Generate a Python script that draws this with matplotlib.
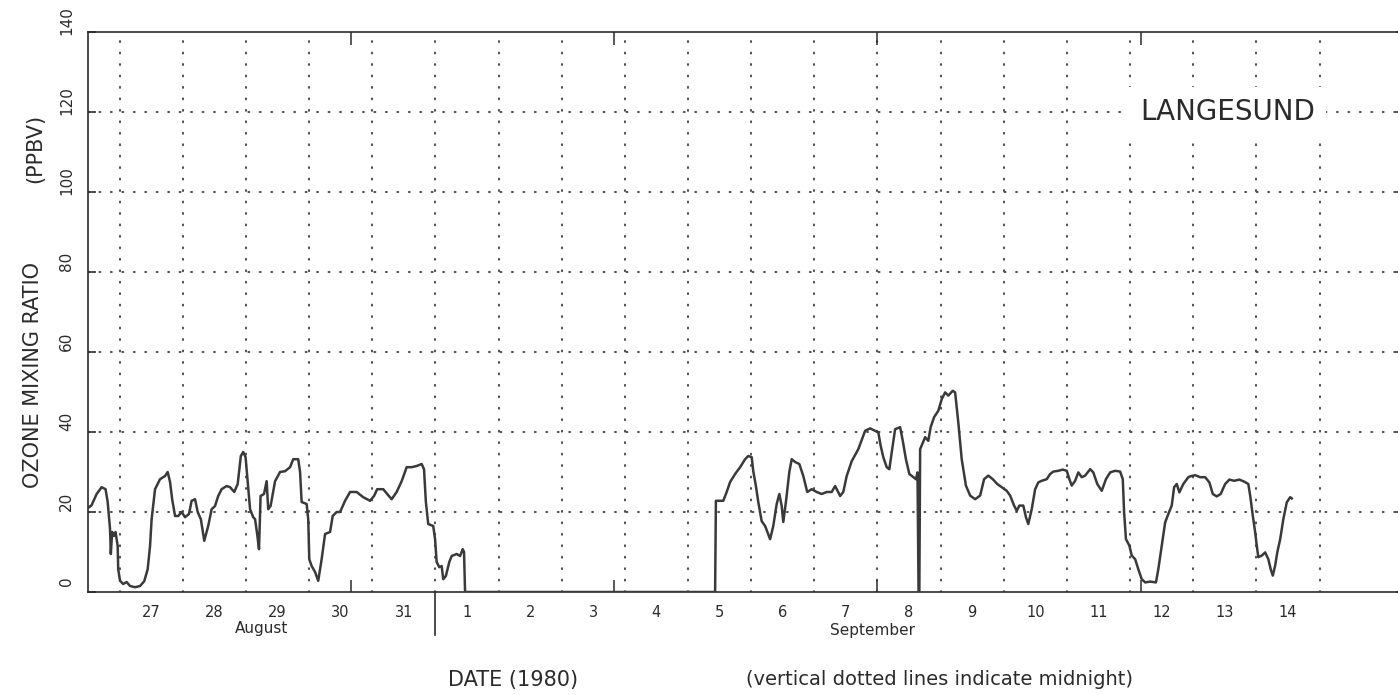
import matplotlib
matplotlib.use('Agg')
import matplotlib.pyplot as plt
import matplotlib.transforms as mtransforms

# hours after 26 Aug 1980 12:00 and ozone (ppbv), Langesund
hours = [0.0, 1.4, 3.3, 5.2, 6.7, 7.5, 8.4, 8.7, 9.2, 9.9, 10.5, 11.3, 11.5, 12.2, 13.4, 14.7,
         16.0, 17.9, 19.8, 21.4, 22.7, 23.6, 24.2, 25.5, 27.4, 29.3, 30.3, 31.2, 32.0, 33.1,
         34.3, 35.6, 36.9, 38.4, 39.4, 40.7, 41.7, 42.9, 44.2, 45.7, 47.0, 48.3, 49.5, 50.8,
         52.7, 54.0, 55.6, 56.9, 58.1, 59.0, 59.9, 60.7, 61.6, 62.8, 63.5, 64.3, 65.0, 65.6,
         66.9, 67.9, 68.5, 69.4, 71.1, 73.0, 74.9, 76.8, 78.0, 79.9, 80.6, 81.2, 83.1, 83.7,
         84.1, 85.0, 86.3, 87.5, 88.8, 90.1, 92.0, 93.0, 94.5, 95.8, 97.7, 99.6, 102.1, 104.6,
         107.2, 108.7, 109.9, 112.2, 113.7, 115.4, 117.3, 119.2, 121.1, 123.0, 124.9, 126.8,
         127.7, 128.4, 129.3, 131.2, 131.9, 132.5, 133.5, 134.4, 135.0, 136.0, 137.3, 138.2,
         140.1, 141.4, 142.4, 142.9, 143.3,
         238.3, 238.6, 241.4, 242.7, 244.0, 245.9, 247.8, 249.7, 250.9, 252.2, 252.8, 253.8,
         254.7, 256.0, 257.3, 259.2, 260.4, 261.7, 262.7, 263.6, 264.2, 265.2, 266.5, 267.4,
         268.7, 270.3, 271.8, 273.3, 275.0, 276.9, 278.8, 280.7, 282.6, 283.9, 285.8, 287.0,
         288.3, 290.2, 292.7, 294.4, 295.3, 297.2, 299.1, 300.3, 301.2, 302.2, 303.5, 304.5,
         305.4, 306.7, 308.6, 309.6, 310.8, 312.1, 313.6, 314.6, 315.2, 315.6, 315.9, 316.2,
         318.1, 319.3, 320.2, 321.5, 323.1, 324.4, 325.7, 326.9, 328.6, 329.5, 330.7, 332.0,
         333.6, 335.2, 337.1, 339.0, 340.5, 342.1, 343.8, 345.5, 347.2, 349.1, 350.4, 351.9,
         352.9, 353.9, 355.4, 356.4, 357.3, 358.6, 359.9, 361.1, 362.4, 364.3, 365.6, 366.8,
         368.7, 370.4, 371.9, 372.9, 373.8, 375.1, 376.3, 377.6, 378.9, 380.8, 382.0, 383.5,
         385.2, 386.8, 388.4, 390.3, 392.2, 393.2, 393.7, 394.4, 395.7, 396.6, 397.9, 399.1,
         400.4, 401.7, 403.6, 405.8, 406.7, 408.0, 409.3, 410.5, 411.8, 412.7, 413.7, 414.7,
         416.2, 418.1, 418.8, 420.7, 422.6, 424.5, 426.1, 427.4, 428.9, 430.4, 432.1, 433.7,
         435.5, 437.5, 439.3, 440.9, 441.6, 442.6, 443.5, 444.1, 444.7, 446.0, 447.3, 448.5,
         449.4, 450.2, 451.1, 451.9, 453.0, 454.2, 455.5, 456.8, 457.4]
ozone = [21.0, 21.7, 24.5, 26.2, 25.7, 22.5, 15.7, 9.5, 15.0, 14.0, 15.0, 11.5, 5.7, 2.8, 2.0, 2.5,
         1.5, 1.2, 1.5, 2.7, 5.7, 11.5, 18.2, 25.7, 28.2, 29.0, 30.0, 27.5, 23.2, 19.0,
         19.0, 20.0, 18.7, 19.5, 22.8, 23.2, 20.0, 18.2, 12.8, 16.5, 20.7, 21.5, 24.0, 25.7,
         26.5, 26.2, 25.0, 27.0, 34.0, 35.0, 33.7, 27.7, 20.7, 18.7, 18.2, 14.5, 10.7, 24.0,
         24.5, 27.7, 20.7, 21.5, 27.7, 30.0, 30.2, 31.2, 33.2, 33.2, 30.0, 22.5, 22.0, 18.2,
         8.2, 6.5, 5.0, 2.8, 8.2, 14.5, 15.0, 19.0, 20.0, 20.0, 22.8, 25.0, 25.0, 23.7,
         22.8, 24.0, 25.7, 25.7, 24.5, 23.2, 25.0, 27.7, 31.2, 31.2, 31.5, 32.0,
         30.7, 22.5, 17.0, 16.5, 13.2, 7.5, 6.2, 6.5, 3.2, 4.0, 7.5, 9.0,
         9.5, 9.0, 10.7, 10.0, 0.0,
         0.0, 22.8, 22.8, 25.0, 27.5, 29.5, 31.2, 33.2, 34.0, 33.7, 30.2, 26.5,
         22.5, 17.7, 16.5, 13.2, 16.5, 22.0, 24.5, 21.5, 17.5, 22.5, 30.0, 33.2,
         32.5, 32.0, 29.0, 25.0, 25.7, 25.0, 24.5, 25.0, 25.0, 26.5, 24.0, 25.0,
         29.0, 32.7, 35.7, 38.7, 40.3, 40.9, 40.3, 39.9, 36.6, 33.7, 31.2, 30.7,
         34.9, 40.7, 41.2, 37.8, 33.2, 29.5, 28.7, 28.2, 29.9, 0.0, 0.0, 35.7,
         38.7, 37.8, 41.2, 43.7, 45.3, 48.2, 49.9, 49.1, 50.3, 49.9, 42.4, 33.2,
         26.6, 24.1, 23.2, 24.1, 28.2, 29.1, 28.2, 27.0, 26.2, 25.3, 24.1, 21.6,
         20.3, 21.6, 21.6, 18.7, 17.0, 20.7, 25.7, 27.4, 27.8, 28.2, 29.5, 30.1,
         30.3, 30.6, 30.3, 28.2, 26.6, 27.8, 29.9, 28.7, 29.1, 30.7, 29.9, 27.0,
         25.3, 28.2, 29.9, 30.3, 30.1, 28.2, 19.9, 13.2, 11.6, 9.1, 8.2, 5.7,
         3.2, 2.4, 2.6, 2.4, 5.7, 11.6, 17.4, 19.5, 21.6, 26.2, 27.0, 24.9,
         27.0, 28.7, 28.9, 29.2, 28.7, 28.7, 27.4, 24.5, 23.9, 24.5, 27.0, 28.1,
         27.8, 28.1, 27.6, 27.0, 24.1, 19.1, 14.9, 11.6, 8.7, 9.1, 9.9, 8.2,
         5.7, 4.1, 6.6, 9.9, 13.2, 18.2, 22.4, 23.7, 23.4]

aug_days = ['27', '28', '29', '30', '31']
sep_days = [str(d) for d in range(1, 15)]
y_ticks = [0, 20, 40, 60, 80, 100, 120, 140]

ink = '#2b2b2b'
plt.rcParams['font.family'] = ['DejaVu Sans']

fig = plt.figure(figsize=(13.98, 6.95), dpi=100)
ax = fig.add_axes([0.0629, 0.1482, 0.9413, 0.8058])
ax.set_xlim(0, 500)
ax.set_ylim(0, 140)

# dotted grid: midnights and every 20 ppbv
midnights = [12 + 24 * k for k in range(20)]
dots = dict(color='#505050', lw=1.5, ls=(0, (0.4, 5.1)), dash_capstyle='round', zorder=1)
for m in midnights:
    ax.axvline(m, **dots)
for v in y_ticks[1:-1]:
    ax.axhline(v, **dots)

ax.plot(hours, ozone, color='#3a3a3a', lw=1.8, zorder=3)

for side in ax.spines.values():
    side.set_color(ink)
    side.set_linewidth(1.2)

# day numbers sit at noon of each day
labels = aug_days + sep_days
noons = [24 + 24 * k for k in range(len(labels))]
ax.set_xticks(noons, labels=labels)
ax.set_xticks([100, 200, 300, 400], minor=True)
ax.tick_params(axis='x', which='major', length=0, pad=9, labelsize=10.5, labelcolor=ink)
ax.tick_params(axis='x', which='minor', direction='in', length=9, width=1.1,
               top=True, bottom=True, color=ink)

ax.set_yticks(y_ticks, labels=[str(v) for v in y_ticks])
ax.tick_params(axis='y', direction='in', length=6, width=1.2, left=True, right=True,
               pad=10, labelsize=11, labelcolor=ink, color=ink)
shift = mtransforms.ScaledTranslation(0, 0.11, fig.dpi_scale_trans)
for lab in ax.get_yticklabels():
    lab.set_rotation(90)
    lab.set_va('center')
    lab.set_transform(lab.get_transform() + shift)

# month separator below 1 September
ax.axvline(132, ymin=-0.077, ymax=0, color=ink, lw=1.2, clip_on=False)
ax.text(66, -0.066, 'August', transform=ax.get_xaxis_transform(),
        ha='center', va='center', fontsize=11, color=ink)
ax.text(298, -0.068, 'September', transform=ax.get_xaxis_transform(),
        ha='center', va='center', fontsize=11, color=ink)

ax.text(433, 120, 'LANGESUND', ha='center', va='center', fontsize=20, color=ink,
        zorder=4, bbox=dict(facecolor='white', edgecolor='none', boxstyle='square,pad=0.4'))

fig.text(0.0236, 0.4604, 'OZONE MIXING RATIO', rotation=90, ha='center', va='center',
         fontsize=15, color=ink)
fig.text(0.025, 0.787, '(PPBV)', rotation=90, ha='center', va='center',
         fontsize=15, color=ink)
fig.text(0.367, 0.0216, 'DATE (1980)', ha='center', va='center', fontsize=15, color=ink)
fig.text(0.672, 0.0216, '(vertical dotted lines indicate midnight)', ha='center',
         va='center', fontsize=14, color=ink)

fig.savefig('out.png', dpi=100)
